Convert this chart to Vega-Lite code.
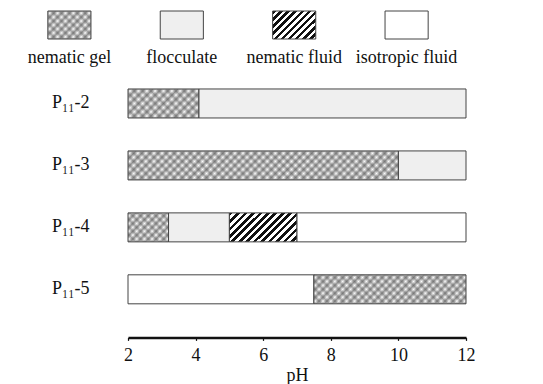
{
  "$schema": "https://vega.github.io/schema/vega-lite/v6.json",
  "padding": {"left": 27, "top": 0, "right": 5, "bottom": 0},
  "bounds": "flush",
  "spacing": 20.4,
  "config": {
    "font": "Liberation Serif",
    "view": {"stroke": null}
  },
  "datasets": {
    "phases": [
      {"phase": "nematic gel"},
      {"phase": "flocculate"},
      {"phase": "nematic fluid"},
      {"phase": "isotropic fluid"}
    ],
    "bars": [
      {"sample": "P₁₁-2", "phase": "nematic gel", "start": 2, "end": 4.1},
      {"sample": "P₁₁-2", "phase": "flocculate", "start": 4.1, "end": 12},
      {"sample": "P₁₁-3", "phase": "nematic gel", "start": 2, "end": 10},
      {"sample": "P₁₁-3", "phase": "flocculate", "start": 10, "end": 12},
      {"sample": "P₁₁-4", "phase": "nematic gel", "start": 2, "end": 3.2},
      {"sample": "P₁₁-4", "phase": "flocculate", "start": 3.2, "end": 5},
      {"sample": "P₁₁-4", "phase": "nematic fluid", "start": 5, "end": 7},
      {"sample": "P₁₁-4", "phase": "isotropic fluid", "start": 7, "end": 12},
      {"sample": "P₁₁-5", "phase": "isotropic fluid", "start": 2, "end": 7.5},
      {"sample": "P₁₁-5", "phase": "nematic gel", "start": 7.5, "end": 12}
    ]
  },
  "vconcat": [
    {
      "width": 338,
      "height": 50,
      "data": {"name": "phases"},
      "encoding": {
        "x": {"field": "phase", "type": "nominal", "sort": null, "axis": null,
              "scale": {"type": "point", "range": [-58.6, 278.6], "padding": 0}}
      },
      "layer": [
        {
          "mark": {"type": "point", "shape": "M-1.54,-1H1.54V1H-1.54Z", "size": 784, "filled": true, "opacity": 1, "stroke": "#444444", "strokeWidth": 1},
          "encoding": {
            "fill": {
              "condition": [
                {"test": "datum.phase === 'nematic gel'", "value": {"gradient": "linear", "x1": 0, "y1": 0, "x2": 1.1601, "y2": 0.7536, "stops": [
                  {"offset": 0, "color": "#999999"}, {"offset": 0.0556, "color": "#ffffff"}, {"offset": 0.1111, "color": "#999999"}, {"offset": 0.1667, "color": "#ffffff"}, {"offset": 0.2222, "color": "#999999"}, {"offset": 0.2778, "color": "#ffffff"}, {"offset": 0.3333, "color": "#999999"}, {"offset": 0.3889, "color": "#ffffff"}, {"offset": 0.4444, "color": "#999999"}, {"offset": 0.5, "color": "#ffffff"}, {"offset": 0.5556, "color": "#999999"}, {"offset": 0.6111, "color": "#ffffff"}, {"offset": 0.6667, "color": "#999999"}, {"offset": 0.7222, "color": "#ffffff"}, {"offset": 0.7778, "color": "#999999"}, {"offset": 0.8333, "color": "#ffffff"}, {"offset": 0.8889, "color": "#999999"}, {"offset": 0.9444, "color": "#ffffff"}, {"offset": 1, "color": "#999999"}]}},
                {"test": "datum.phase === 'nematic fluid'", "value": {"gradient": "linear", "x1": 0, "y1": 0, "x2": 1.1595, "y2": 0.755, "stops": [
                  {"offset": 0, "color": "#111111"}, {"offset": 0.05, "color": "#111111"}, {"offset": 0.05, "color": "#ffffff"}, {"offset": 0.1, "color": "#ffffff"}, {"offset": 0.1, "color": "#111111"}, {"offset": 0.15, "color": "#111111"}, {"offset": 0.15, "color": "#ffffff"}, {"offset": 0.2, "color": "#ffffff"}, {"offset": 0.2, "color": "#111111"}, {"offset": 0.25, "color": "#111111"}, {"offset": 0.25, "color": "#ffffff"}, {"offset": 0.3, "color": "#ffffff"}, {"offset": 0.3, "color": "#111111"}, {"offset": 0.35, "color": "#111111"}, {"offset": 0.35, "color": "#ffffff"}, {"offset": 0.4, "color": "#ffffff"}, {"offset": 0.4, "color": "#111111"}, {"offset": 0.45, "color": "#111111"}, {"offset": 0.45, "color": "#ffffff"}, {"offset": 0.5, "color": "#ffffff"}, {"offset": 0.5, "color": "#111111"}, {"offset": 0.55, "color": "#111111"}, {"offset": 0.55, "color": "#ffffff"}, {"offset": 0.6, "color": "#ffffff"}, {"offset": 0.6, "color": "#111111"}, {"offset": 0.65, "color": "#111111"}, {"offset": 0.65, "color": "#ffffff"}, {"offset": 0.7, "color": "#ffffff"}, {"offset": 0.7, "color": "#111111"}, {"offset": 0.75, "color": "#111111"}, {"offset": 0.75, "color": "#ffffff"}, {"offset": 0.8, "color": "#ffffff"}, {"offset": 0.8, "color": "#111111"}, {"offset": 0.85, "color": "#111111"}, {"offset": 0.85, "color": "#ffffff"}, {"offset": 0.9, "color": "#ffffff"}, {"offset": 0.9, "color": "#111111"}, {"offset": 0.95, "color": "#111111"}, {"offset": 0.95, "color": "#ffffff"}, {"offset": 1, "color": "#ffffff"}]}},
                {"test": "datum.phase === 'flocculate'", "value": "#efefef"}
              ],
              "value": "#ffffff"
            }
          }
        },
        {
          "transform": [{"filter": "datum.phase === 'nematic gel'"}],
          "mark": {"type": "point", "shape": "M-1.54,-1H1.54V1H-1.54Z", "size": 784, "filled": true, "opacity": 1, "strokeWidth": 0,
            "fill": {"gradient": "linear", "x1": 0, "y1": 1, "x2": 1.1601, "y2": 0.2464, "stops": [
              {"offset": 0, "color": "rgba(70,70,70,0.45)"}, {"offset": 0.0556, "color": "rgba(70,70,70,0)"}, {"offset": 0.1111, "color": "rgba(70,70,70,0.45)"}, {"offset": 0.1667, "color": "rgba(70,70,70,0)"}, {"offset": 0.2222, "color": "rgba(70,70,70,0.45)"}, {"offset": 0.2778, "color": "rgba(70,70,70,0)"}, {"offset": 0.3333, "color": "rgba(70,70,70,0.45)"}, {"offset": 0.3889, "color": "rgba(70,70,70,0)"}, {"offset": 0.4444, "color": "rgba(70,70,70,0.45)"}, {"offset": 0.5, "color": "rgba(70,70,70,0)"}, {"offset": 0.5556, "color": "rgba(70,70,70,0.45)"}, {"offset": 0.6111, "color": "rgba(70,70,70,0)"}, {"offset": 0.6667, "color": "rgba(70,70,70,0.45)"}, {"offset": 0.7222, "color": "rgba(70,70,70,0)"}, {"offset": 0.7778, "color": "rgba(70,70,70,0.45)"}, {"offset": 0.8333, "color": "rgba(70,70,70,0)"}, {"offset": 0.8889, "color": "rgba(70,70,70,0.45)"}, {"offset": 0.9444, "color": "rgba(70,70,70,0)"}, {"offset": 1, "color": "rgba(70,70,70,0.45)"}]}},
          "encoding": {}
        },
        {
          "mark": {"type": "text", "baseline": "alphabetic", "dy": 38, "fontSize": 18, "color": "#111111"},
          "encoding": {
            "text": {"field": "phase"}
          }
        }
      ]
    },
    {
      "width": 338,
      "height": 252,
      "data": {"name": "bars"},
      "encoding": {
        "y": {"field": "sample", "type": "nominal", "sort": null,
              "scale": {"paddingInner": 0.532, "paddingOuter": 0.3},
              "axis": {"title": null, "domain": false, "ticks": false, "labelFontSize": 18, "labelColor": "#111111", "labelPadding": 39}},
        "x": {"field": "start", "type": "quantitative",
              "scale": {"domain": [2, 12], "nice": false, "zero": false},
              "axis": {"title": "pH", "values": [2, 4, 6, 8, 10, 12], "grid": false, "offset": 15,
                       "domainColor": "#111111", "domainWidth": 2.5, "tickColor": "#111111", "tickWidth": 1.2, "tickSize": 3,
                       "labelFontSize": 18, "labelColor": "#111111", "labelPadding": 6, "labelFlush": false,
                       "titleFontSize": 18, "titleFontWeight": "normal", "titleColor": "#111111", "titlePadding": 2}},
        "x2": {"field": "end"}
      },
      "layer": [
        {
          "mark": {"type": "bar", "stroke": "#444444", "strokeWidth": 1},
          "encoding": {
            "fill": {
              "condition": [
                {"test": "datum.phase === 'nematic gel' && datum.sample === 'P₁₁-2'", "value": {"gradient": "linear", "x1": 0, "y1": 0, "x2": 1.2071, "y2": 0.4932, "stops": [
                  {"offset": 0, "color": "#999999"}, {"offset": 0.0417, "color": "#ffffff"}, {"offset": 0.0833, "color": "#999999"}, {"offset": 0.125, "color": "#ffffff"}, {"offset": 0.1667, "color": "#999999"}, {"offset": 0.2083, "color": "#ffffff"}, {"offset": 0.25, "color": "#999999"}, {"offset": 0.2917, "color": "#ffffff"}, {"offset": 0.3333, "color": "#999999"}, {"offset": 0.375, "color": "#ffffff"}, {"offset": 0.4167, "color": "#999999"}, {"offset": 0.4583, "color": "#ffffff"}, {"offset": 0.5, "color": "#999999"}, {"offset": 0.5417, "color": "#ffffff"}, {"offset": 0.5833, "color": "#999999"}, {"offset": 0.625, "color": "#ffffff"}, {"offset": 0.6667, "color": "#999999"}, {"offset": 0.7083, "color": "#ffffff"}, {"offset": 0.75, "color": "#999999"}, {"offset": 0.7917, "color": "#ffffff"}, {"offset": 0.8333, "color": "#999999"}, {"offset": 0.875, "color": "#ffffff"}, {"offset": 0.9167, "color": "#999999"}, {"offset": 0.9583, "color": "#ffffff"}, {"offset": 1, "color": "#999999"}]}},
                {"test": "datum.phase === 'nematic gel' && datum.sample === 'P₁₁-3'", "value": {"gradient": "linear", "x1": 0, "y1": 0, "x2": 1.0946, "y2": 0.1174, "stops": [
                  {"offset": 0, "color": "#999999"}, {"offset": 0.0135, "color": "#ffffff"}, {"offset": 0.027, "color": "#999999"}, {"offset": 0.0405, "color": "#ffffff"}, {"offset": 0.0541, "color": "#999999"}, {"offset": 0.0676, "color": "#ffffff"}, {"offset": 0.0811, "color": "#999999"}, {"offset": 0.0946, "color": "#ffffff"}, {"offset": 0.1081, "color": "#999999"}, {"offset": 0.1216, "color": "#ffffff"}, {"offset": 0.1351, "color": "#999999"}, {"offset": 0.1486, "color": "#ffffff"}, {"offset": 0.1622, "color": "#999999"}, {"offset": 0.1757, "color": "#ffffff"}, {"offset": 0.1892, "color": "#999999"}, {"offset": 0.2027, "color": "#ffffff"}, {"offset": 0.2162, "color": "#999999"}, {"offset": 0.2297, "color": "#ffffff"}, {"offset": 0.2432, "color": "#999999"}, {"offset": 0.2568, "color": "#ffffff"}, {"offset": 0.2703, "color": "#999999"}, {"offset": 0.2838, "color": "#ffffff"}, {"offset": 0.2973, "color": "#999999"}, {"offset": 0.3108, "color": "#ffffff"}, {"offset": 0.3243, "color": "#999999"}, {"offset": 0.3378, "color": "#ffffff"}, {"offset": 0.3514, "color": "#999999"}, {"offset": 0.3649, "color": "#ffffff"}, {"offset": 0.3784, "color": "#999999"}, {"offset": 0.3919, "color": "#ffffff"}, {"offset": 0.4054, "color": "#999999"}, {"offset": 0.4189, "color": "#ffffff"}, {"offset": 0.4324, "color": "#999999"}, {"offset": 0.4459, "color": "#ffffff"}, {"offset": 0.4595, "color": "#999999"}, {"offset": 0.473, "color": "#ffffff"}, {"offset": 0.4865, "color": "#999999"}, {"offset": 0.5, "color": "#ffffff"}, {"offset": 0.5135, "color": "#999999"}, {"offset": 0.527, "color": "#ffffff"}, {"offset": 0.5405, "color": "#999999"}, {"offset": 0.5541, "color": "#ffffff"}, {"offset": 0.5676, "color": "#999999"}, {"offset": 0.5811, "color": "#ffffff"}, {"offset": 0.5946, "color": "#999999"}, {"offset": 0.6081, "color": "#ffffff"}, {"offset": 0.6216, "color": "#999999"}, {"offset": 0.6351, "color": "#ffffff"}, {"offset": 0.6486, "color": "#999999"}, {"offset": 0.6622, "color": "#ffffff"}, {"offset": 0.6757, "color": "#999999"}, {"offset": 0.6892, "color": "#ffffff"}, {"offset": 0.7027, "color": "#999999"}, {"offset": 0.7162, "color": "#ffffff"}, {"offset": 0.7297, "color": "#999999"}, {"offset": 0.7432, "color": "#ffffff"}, {"offset": 0.7568, "color": "#999999"}, {"offset": 0.7703, "color": "#ffffff"}, {"offset": 0.7838, "color": "#999999"}, {"offset": 0.7973, "color": "#ffffff"}, {"offset": 0.8108, "color": "#999999"}, {"offset": 0.8243, "color": "#ffffff"}, {"offset": 0.8378, "color": "#999999"}, {"offset": 0.8514, "color": "#ffffff"}, {"offset": 0.8649, "color": "#999999"}, {"offset": 0.8784, "color": "#ffffff"}, {"offset": 0.8919, "color": "#999999"}, {"offset": 0.9054, "color": "#ffffff"}, {"offset": 0.9189, "color": "#999999"}, {"offset": 0.9324, "color": "#ffffff"}, {"offset": 0.9459, "color": "#999999"}, {"offset": 0.9595, "color": "#ffffff"}, {"offset": 0.973, "color": "#999999"}, {"offset": 0.9865, "color": "#ffffff"}, {"offset": 1, "color": "#999999"}]}},
                {"test": "datum.phase === 'nematic gel' && datum.sample === 'P₁₁-4'", "value": {"gradient": "linear", "x1": 0, "y1": 0, "x2": 1.1349, "y2": 0.8114, "stops": [
                  {"offset": 0, "color": "#999999"}, {"offset": 0.0556, "color": "#ffffff"}, {"offset": 0.1111, "color": "#999999"}, {"offset": 0.1667, "color": "#ffffff"}, {"offset": 0.2222, "color": "#999999"}, {"offset": 0.2778, "color": "#ffffff"}, {"offset": 0.3333, "color": "#999999"}, {"offset": 0.3889, "color": "#ffffff"}, {"offset": 0.4444, "color": "#999999"}, {"offset": 0.5, "color": "#ffffff"}, {"offset": 0.5556, "color": "#999999"}, {"offset": 0.6111, "color": "#ffffff"}, {"offset": 0.6667, "color": "#999999"}, {"offset": 0.7222, "color": "#ffffff"}, {"offset": 0.7778, "color": "#999999"}, {"offset": 0.8333, "color": "#ffffff"}, {"offset": 0.8889, "color": "#999999"}, {"offset": 0.9444, "color": "#ffffff"}, {"offset": 1, "color": "#999999"}]}},
                {"test": "datum.phase === 'nematic gel' && datum.sample === 'P₁₁-5'", "value": {"gradient": "linear", "x1": 0, "y1": 0, "x2": 1.1489, "y2": 0.2191, "stops": [
                  {"offset": 0, "color": "#999999"}, {"offset": 0.0217, "color": "#ffffff"}, {"offset": 0.0435, "color": "#999999"}, {"offset": 0.0652, "color": "#ffffff"}, {"offset": 0.087, "color": "#999999"}, {"offset": 0.1087, "color": "#ffffff"}, {"offset": 0.1304, "color": "#999999"}, {"offset": 0.1522, "color": "#ffffff"}, {"offset": 0.1739, "color": "#999999"}, {"offset": 0.1957, "color": "#ffffff"}, {"offset": 0.2174, "color": "#999999"}, {"offset": 0.2391, "color": "#ffffff"}, {"offset": 0.2609, "color": "#999999"}, {"offset": 0.2826, "color": "#ffffff"}, {"offset": 0.3043, "color": "#999999"}, {"offset": 0.3261, "color": "#ffffff"}, {"offset": 0.3478, "color": "#999999"}, {"offset": 0.3696, "color": "#ffffff"}, {"offset": 0.3913, "color": "#999999"}, {"offset": 0.413, "color": "#ffffff"}, {"offset": 0.4348, "color": "#999999"}, {"offset": 0.4565, "color": "#ffffff"}, {"offset": 0.4783, "color": "#999999"}, {"offset": 0.5, "color": "#ffffff"}, {"offset": 0.5217, "color": "#999999"}, {"offset": 0.5435, "color": "#ffffff"}, {"offset": 0.5652, "color": "#999999"}, {"offset": 0.587, "color": "#ffffff"}, {"offset": 0.6087, "color": "#999999"}, {"offset": 0.6304, "color": "#ffffff"}, {"offset": 0.6522, "color": "#999999"}, {"offset": 0.6739, "color": "#ffffff"}, {"offset": 0.6957, "color": "#999999"}, {"offset": 0.7174, "color": "#ffffff"}, {"offset": 0.7391, "color": "#999999"}, {"offset": 0.7609, "color": "#ffffff"}, {"offset": 0.7826, "color": "#999999"}, {"offset": 0.8043, "color": "#ffffff"}, {"offset": 0.8261, "color": "#999999"}, {"offset": 0.8478, "color": "#ffffff"}, {"offset": 0.8696, "color": "#999999"}, {"offset": 0.8913, "color": "#ffffff"}, {"offset": 0.913, "color": "#999999"}, {"offset": 0.9348, "color": "#ffffff"}, {"offset": 0.9565, "color": "#999999"}, {"offset": 0.9783, "color": "#ffffff"}, {"offset": 1, "color": "#999999"}]}},
                {"test": "datum.phase === 'nematic fluid'", "value": {"gradient": "linear", "x1": 0, "y1": 0, "x2": 1.2069, "y2": 0.5177, "stops": [
                  {"offset": 0, "color": "#111111"}, {"offset": 0.0385, "color": "#111111"}, {"offset": 0.0385, "color": "#ffffff"}, {"offset": 0.0769, "color": "#ffffff"}, {"offset": 0.0769, "color": "#111111"}, {"offset": 0.1154, "color": "#111111"}, {"offset": 0.1154, "color": "#ffffff"}, {"offset": 0.1538, "color": "#ffffff"}, {"offset": 0.1538, "color": "#111111"}, {"offset": 0.1923, "color": "#111111"}, {"offset": 0.1923, "color": "#ffffff"}, {"offset": 0.2308, "color": "#ffffff"}, {"offset": 0.2308, "color": "#111111"}, {"offset": 0.2692, "color": "#111111"}, {"offset": 0.2692, "color": "#ffffff"}, {"offset": 0.3077, "color": "#ffffff"}, {"offset": 0.3077, "color": "#111111"}, {"offset": 0.3462, "color": "#111111"}, {"offset": 0.3462, "color": "#ffffff"}, {"offset": 0.3846, "color": "#ffffff"}, {"offset": 0.3846, "color": "#111111"}, {"offset": 0.4231, "color": "#111111"}, {"offset": 0.4231, "color": "#ffffff"}, {"offset": 0.4615, "color": "#ffffff"}, {"offset": 0.4615, "color": "#111111"}, {"offset": 0.5, "color": "#111111"}, {"offset": 0.5, "color": "#ffffff"}, {"offset": 0.5385, "color": "#ffffff"}, {"offset": 0.5385, "color": "#111111"}, {"offset": 0.5769, "color": "#111111"}, {"offset": 0.5769, "color": "#ffffff"}, {"offset": 0.6154, "color": "#ffffff"}, {"offset": 0.6154, "color": "#111111"}, {"offset": 0.6538, "color": "#111111"}, {"offset": 0.6538, "color": "#ffffff"}, {"offset": 0.6923, "color": "#ffffff"}, {"offset": 0.6923, "color": "#111111"}, {"offset": 0.7308, "color": "#111111"}, {"offset": 0.7308, "color": "#ffffff"}, {"offset": 0.7692, "color": "#ffffff"}, {"offset": 0.7692, "color": "#111111"}, {"offset": 0.8077, "color": "#111111"}, {"offset": 0.8077, "color": "#ffffff"}, {"offset": 0.8462, "color": "#ffffff"}, {"offset": 0.8462, "color": "#111111"}, {"offset": 0.8846, "color": "#111111"}, {"offset": 0.8846, "color": "#ffffff"}, {"offset": 0.9231, "color": "#ffffff"}, {"offset": 0.9231, "color": "#111111"}, {"offset": 0.9615, "color": "#111111"}, {"offset": 0.9615, "color": "#ffffff"}, {"offset": 1, "color": "#ffffff"}]}},
                {"test": "datum.phase === 'flocculate'", "value": "#efefef"}
              ],
              "value": "#ffffff"
            }
          }
        },
        {
          "transform": [{"filter": "datum.phase === 'nematic gel'"}],
          "mark": {"type": "bar", "strokeWidth": 0},
          "encoding": {
            "fill": {
              "condition": [
                {"test": "datum.sample === 'P₁₁-2'", "value": {"gradient": "linear", "x1": 0, "y1": 1, "x2": 1.2071, "y2": 0.5068, "stops": [
                  {"offset": 0, "color": "rgba(70,70,70,0.45)"}, {"offset": 0.0417, "color": "rgba(70,70,70,0)"}, {"offset": 0.0833, "color": "rgba(70,70,70,0.45)"}, {"offset": 0.125, "color": "rgba(70,70,70,0)"}, {"offset": 0.1667, "color": "rgba(70,70,70,0.45)"}, {"offset": 0.2083, "color": "rgba(70,70,70,0)"}, {"offset": 0.25, "color": "rgba(70,70,70,0.45)"}, {"offset": 0.2917, "color": "rgba(70,70,70,0)"}, {"offset": 0.3333, "color": "rgba(70,70,70,0.45)"}, {"offset": 0.375, "color": "rgba(70,70,70,0)"}, {"offset": 0.4167, "color": "rgba(70,70,70,0.45)"}, {"offset": 0.4583, "color": "rgba(70,70,70,0)"}, {"offset": 0.5, "color": "rgba(70,70,70,0.45)"}, {"offset": 0.5417, "color": "rgba(70,70,70,0)"}, {"offset": 0.5833, "color": "rgba(70,70,70,0.45)"}, {"offset": 0.625, "color": "rgba(70,70,70,0)"}, {"offset": 0.6667, "color": "rgba(70,70,70,0.45)"}, {"offset": 0.7083, "color": "rgba(70,70,70,0)"}, {"offset": 0.75, "color": "rgba(70,70,70,0.45)"}, {"offset": 0.7917, "color": "rgba(70,70,70,0)"}, {"offset": 0.8333, "color": "rgba(70,70,70,0.45)"}, {"offset": 0.875, "color": "rgba(70,70,70,0)"}, {"offset": 0.9167, "color": "rgba(70,70,70,0.45)"}, {"offset": 0.9583, "color": "rgba(70,70,70,0)"}, {"offset": 1, "color": "rgba(70,70,70,0.45)"}]}},
                {"test": "datum.sample === 'P₁₁-3'", "value": {"gradient": "linear", "x1": 0, "y1": 1, "x2": 1.0946, "y2": 0.8826, "stops": [
                  {"offset": 0, "color": "rgba(70,70,70,0.45)"}, {"offset": 0.0135, "color": "rgba(70,70,70,0)"}, {"offset": 0.027, "color": "rgba(70,70,70,0.45)"}, {"offset": 0.0405, "color": "rgba(70,70,70,0)"}, {"offset": 0.0541, "color": "rgba(70,70,70,0.45)"}, {"offset": 0.0676, "color": "rgba(70,70,70,0)"}, {"offset": 0.0811, "color": "rgba(70,70,70,0.45)"}, {"offset": 0.0946, "color": "rgba(70,70,70,0)"}, {"offset": 0.1081, "color": "rgba(70,70,70,0.45)"}, {"offset": 0.1216, "color": "rgba(70,70,70,0)"}, {"offset": 0.1351, "color": "rgba(70,70,70,0.45)"}, {"offset": 0.1486, "color": "rgba(70,70,70,0)"}, {"offset": 0.1622, "color": "rgba(70,70,70,0.45)"}, {"offset": 0.1757, "color": "rgba(70,70,70,0)"}, {"offset": 0.1892, "color": "rgba(70,70,70,0.45)"}, {"offset": 0.2027, "color": "rgba(70,70,70,0)"}, {"offset": 0.2162, "color": "rgba(70,70,70,0.45)"}, {"offset": 0.2297, "color": "rgba(70,70,70,0)"}, {"offset": 0.2432, "color": "rgba(70,70,70,0.45)"}, {"offset": 0.2568, "color": "rgba(70,70,70,0)"}, {"offset": 0.2703, "color": "rgba(70,70,70,0.45)"}, {"offset": 0.2838, "color": "rgba(70,70,70,0)"}, {"offset": 0.2973, "color": "rgba(70,70,70,0.45)"}, {"offset": 0.3108, "color": "rgba(70,70,70,0)"}, {"offset": 0.3243, "color": "rgba(70,70,70,0.45)"}, {"offset": 0.3378, "color": "rgba(70,70,70,0)"}, {"offset": 0.3514, "color": "rgba(70,70,70,0.45)"}, {"offset": 0.3649, "color": "rgba(70,70,70,0)"}, {"offset": 0.3784, "color": "rgba(70,70,70,0.45)"}, {"offset": 0.3919, "color": "rgba(70,70,70,0)"}, {"offset": 0.4054, "color": "rgba(70,70,70,0.45)"}, {"offset": 0.4189, "color": "rgba(70,70,70,0)"}, {"offset": 0.4324, "color": "rgba(70,70,70,0.45)"}, {"offset": 0.4459, "color": "rgba(70,70,70,0)"}, {"offset": 0.4595, "color": "rgba(70,70,70,0.45)"}, {"offset": 0.473, "color": "rgba(70,70,70,0)"}, {"offset": 0.4865, "color": "rgba(70,70,70,0.45)"}, {"offset": 0.5, "color": "rgba(70,70,70,0)"}, {"offset": 0.5135, "color": "rgba(70,70,70,0.45)"}, {"offset": 0.527, "color": "rgba(70,70,70,0)"}, {"offset": 0.5405, "color": "rgba(70,70,70,0.45)"}, {"offset": 0.5541, "color": "rgba(70,70,70,0)"}, {"offset": 0.5676, "color": "rgba(70,70,70,0.45)"}, {"offset": 0.5811, "color": "rgba(70,70,70,0)"}, {"offset": 0.5946, "color": "rgba(70,70,70,0.45)"}, {"offset": 0.6081, "color": "rgba(70,70,70,0)"}, {"offset": 0.6216, "color": "rgba(70,70,70,0.45)"}, {"offset": 0.6351, "color": "rgba(70,70,70,0)"}, {"offset": 0.6486, "color": "rgba(70,70,70,0.45)"}, {"offset": 0.6622, "color": "rgba(70,70,70,0)"}, {"offset": 0.6757, "color": "rgba(70,70,70,0.45)"}, {"offset": 0.6892, "color": "rgba(70,70,70,0)"}, {"offset": 0.7027, "color": "rgba(70,70,70,0.45)"}, {"offset": 0.7162, "color": "rgba(70,70,70,0)"}, {"offset": 0.7297, "color": "rgba(70,70,70,0.45)"}, {"offset": 0.7432, "color": "rgba(70,70,70,0)"}, {"offset": 0.7568, "color": "rgba(70,70,70,0.45)"}, {"offset": 0.7703, "color": "rgba(70,70,70,0)"}, {"offset": 0.7838, "color": "rgba(70,70,70,0.45)"}, {"offset": 0.7973, "color": "rgba(70,70,70,0)"}, {"offset": 0.8108, "color": "rgba(70,70,70,0.45)"}, {"offset": 0.8243, "color": "rgba(70,70,70,0)"}, {"offset": 0.8378, "color": "rgba(70,70,70,0.45)"}, {"offset": 0.8514, "color": "rgba(70,70,70,0)"}, {"offset": 0.8649, "color": "rgba(70,70,70,0.45)"}, {"offset": 0.8784, "color": "rgba(70,70,70,0)"}, {"offset": 0.8919, "color": "rgba(70,70,70,0.45)"}, {"offset": 0.9054, "color": "rgba(70,70,70,0)"}, {"offset": 0.9189, "color": "rgba(70,70,70,0.45)"}, {"offset": 0.9324, "color": "rgba(70,70,70,0)"}, {"offset": 0.9459, "color": "rgba(70,70,70,0.45)"}, {"offset": 0.9595, "color": "rgba(70,70,70,0)"}, {"offset": 0.973, "color": "rgba(70,70,70,0.45)"}, {"offset": 0.9865, "color": "rgba(70,70,70,0)"}, {"offset": 1, "color": "rgba(70,70,70,0.45)"}]}},
                {"test": "datum.sample === 'P₁₁-4'", "value": {"gradient": "linear", "x1": 0, "y1": 1, "x2": 1.1349, "y2": 0.1886, "stops": [
                  {"offset": 0, "color": "rgba(70,70,70,0.45)"}, {"offset": 0.0556, "color": "rgba(70,70,70,0)"}, {"offset": 0.1111, "color": "rgba(70,70,70,0.45)"}, {"offset": 0.1667, "color": "rgba(70,70,70,0)"}, {"offset": 0.2222, "color": "rgba(70,70,70,0.45)"}, {"offset": 0.2778, "color": "rgba(70,70,70,0)"}, {"offset": 0.3333, "color": "rgba(70,70,70,0.45)"}, {"offset": 0.3889, "color": "rgba(70,70,70,0)"}, {"offset": 0.4444, "color": "rgba(70,70,70,0.45)"}, {"offset": 0.5, "color": "rgba(70,70,70,0)"}, {"offset": 0.5556, "color": "rgba(70,70,70,0.45)"}, {"offset": 0.6111, "color": "rgba(70,70,70,0)"}, {"offset": 0.6667, "color": "rgba(70,70,70,0.45)"}, {"offset": 0.7222, "color": "rgba(70,70,70,0)"}, {"offset": 0.7778, "color": "rgba(70,70,70,0.45)"}, {"offset": 0.8333, "color": "rgba(70,70,70,0)"}, {"offset": 0.8889, "color": "rgba(70,70,70,0.45)"}, {"offset": 0.9444, "color": "rgba(70,70,70,0)"}, {"offset": 1, "color": "rgba(70,70,70,0.45)"}]}},
                {"test": "datum.sample === 'P₁₁-5'", "value": {"gradient": "linear", "x1": 0, "y1": 1, "x2": 1.1489, "y2": 0.7809, "stops": [
                  {"offset": 0, "color": "rgba(70,70,70,0.45)"}, {"offset": 0.0217, "color": "rgba(70,70,70,0)"}, {"offset": 0.0435, "color": "rgba(70,70,70,0.45)"}, {"offset": 0.0652, "color": "rgba(70,70,70,0)"}, {"offset": 0.087, "color": "rgba(70,70,70,0.45)"}, {"offset": 0.1087, "color": "rgba(70,70,70,0)"}, {"offset": 0.1304, "color": "rgba(70,70,70,0.45)"}, {"offset": 0.1522, "color": "rgba(70,70,70,0)"}, {"offset": 0.1739, "color": "rgba(70,70,70,0.45)"}, {"offset": 0.1957, "color": "rgba(70,70,70,0)"}, {"offset": 0.2174, "color": "rgba(70,70,70,0.45)"}, {"offset": 0.2391, "color": "rgba(70,70,70,0)"}, {"offset": 0.2609, "color": "rgba(70,70,70,0.45)"}, {"offset": 0.2826, "color": "rgba(70,70,70,0)"}, {"offset": 0.3043, "color": "rgba(70,70,70,0.45)"}, {"offset": 0.3261, "color": "rgba(70,70,70,0)"}, {"offset": 0.3478, "color": "rgba(70,70,70,0.45)"}, {"offset": 0.3696, "color": "rgba(70,70,70,0)"}, {"offset": 0.3913, "color": "rgba(70,70,70,0.45)"}, {"offset": 0.413, "color": "rgba(70,70,70,0)"}, {"offset": 0.4348, "color": "rgba(70,70,70,0.45)"}, {"offset": 0.4565, "color": "rgba(70,70,70,0)"}, {"offset": 0.4783, "color": "rgba(70,70,70,0.45)"}, {"offset": 0.5, "color": "rgba(70,70,70,0)"}, {"offset": 0.5217, "color": "rgba(70,70,70,0.45)"}, {"offset": 0.5435, "color": "rgba(70,70,70,0)"}, {"offset": 0.5652, "color": "rgba(70,70,70,0.45)"}, {"offset": 0.587, "color": "rgba(70,70,70,0)"}, {"offset": 0.6087, "color": "rgba(70,70,70,0.45)"}, {"offset": 0.6304, "color": "rgba(70,70,70,0)"}, {"offset": 0.6522, "color": "rgba(70,70,70,0.45)"}, {"offset": 0.6739, "color": "rgba(70,70,70,0)"}, {"offset": 0.6957, "color": "rgba(70,70,70,0.45)"}, {"offset": 0.7174, "color": "rgba(70,70,70,0)"}, {"offset": 0.7391, "color": "rgba(70,70,70,0.45)"}, {"offset": 0.7609, "color": "rgba(70,70,70,0)"}, {"offset": 0.7826, "color": "rgba(70,70,70,0.45)"}, {"offset": 0.8043, "color": "rgba(70,70,70,0)"}, {"offset": 0.8261, "color": "rgba(70,70,70,0.45)"}, {"offset": 0.8478, "color": "rgba(70,70,70,0)"}, {"offset": 0.8696, "color": "rgba(70,70,70,0.45)"}, {"offset": 0.8913, "color": "rgba(70,70,70,0)"}, {"offset": 0.913, "color": "rgba(70,70,70,0.45)"}, {"offset": 0.9348, "color": "rgba(70,70,70,0)"}, {"offset": 0.9565, "color": "rgba(70,70,70,0.45)"}, {"offset": 0.9783, "color": "rgba(70,70,70,0)"}, {"offset": 1, "color": "rgba(70,70,70,0.45)"}]}}
              ],
              "value": "rgba(0,0,0,0)"
            }
          }
        }
      ]
    }
  ]
}
